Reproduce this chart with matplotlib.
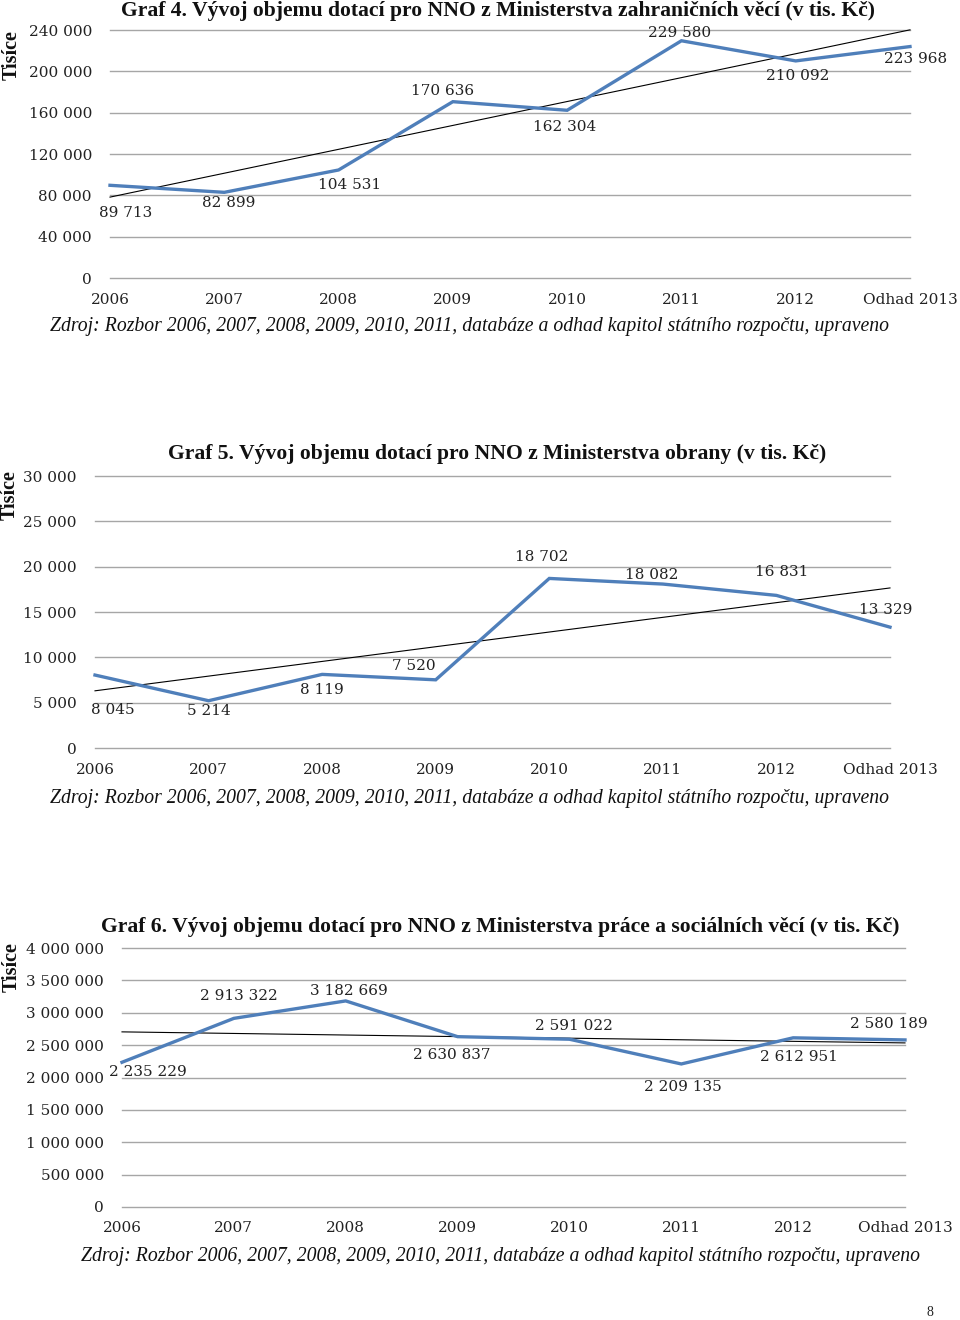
import numpy as np
import matplotlib
matplotlib.use("Agg")
import matplotlib.pyplot as plt
from matplotlib.ticker import FuncFormatter

# ---------------- data ----------------
years = ["2006", "2007", "2008", "2009", "2010", "2011", "2012", "Odhad 2013"]

mzv_values = [89713, 82899, 104531, 170636, 162304, 229580, 210092, 223968]
mo_values = [8045, 5214, 8119, 7520, 18702, 18082, 16831, 13329]
mpsv_values = [2235229, 2913322, 3182669, 2630837, 2591022, 2209135, 2612951, 2580189]

mzv_ticks = [0, 40000, 80000, 120000, 160000, 200000, 240000]
mo_ticks = [0, 5000, 10000, 15000, 20000, 25000, 30000]
mpsv_ticks = [0, 500000, 1000000, 1500000, 2000000, 2500000, 3000000, 3500000, 4000000]

title4 = "Graf 4. Vývoj objemu dotací pro NNO z Ministerstva zahraničních věcí (v tis. Kč)"
title5 = "Graf 5. Vývoj objemu dotací pro NNO z Ministerstva obrany (v tis. Kč)"
title6 = "Graf 6. Vývoj objemu dotací pro NNO z Ministerstva práce a sociálních věcí (v tis. Kč)"
source = "Zdroj: Rozbor 2006, 2007, 2008, 2009, 2010, 2011, databáze a odhad kapitol státního rozpočtu, upraveno"
ylabel = "Tisíce"

# label offsets in pixels (dx right, dy down)
mzv_off = [(16, 28), (4, 11), (11, 15), (-10, -11), (-3, 17), (-2, -8), (2, 15), (6, 12)]
mo_off = [(18, 35), (0, 10), (0, 16), (-22, -14), (-8, -21), (-11, -9), (5, -23), (-4, -17)]
mpsv_off = [(26, 10), (5, -22), (3, -10), (-6, 18), (5, -13), (2, 23), (6, 19), (-16, -16)]

W, H = 960, 1320
BLUE = "#4F7FBA"
GRID = "#A6A6A6"
SERIF = ["DejaVu Serif"]
TSERIF = ["Liberation Serif", "DejaVu Serif"]

fig = plt.figure(figsize=(W / 100, H / 100), dpi=100)


def fmt(v):
    return f"{int(round(v)):,}".replace(",", " ")


def make_chart(x0, x1, ytop, ybot, values, ticks, offs, title, title_xy,
               ylabel_xy, source_xy, ytick_pad, xtick_pad):
    ax = fig.add_axes([x0 / W, 1 - ybot / H, (x1 - x0) / W, (ybot - ytop) / H])
    x = np.arange(len(years))
    ax.set_xlim(0, len(years) - 1)
    ax.set_ylim(ticks[0], ticks[-1])
    for t in ticks:
        ax.axhline(t, color=GRID, lw=1.0, zorder=1, clip_on=False)
    coef = np.polyfit(x, values, 1)
    ax.plot(x, np.polyval(coef, x), color="black", lw=0.8, zorder=2, clip_on=False)
    ax.plot(x, values, color=BLUE, lw=2.4, zorder=3, clip_on=False,
            solid_joinstyle="miter")
    for xi, v, (dx, dy) in zip(x, values, offs):
        ax.annotate(fmt(v), (xi, v), xytext=(dx, -dy), textcoords="offset pixels",
                    ha="center", va="center", fontsize=11, family=SERIF,
                    color="#222222", zorder=4)
    for s in ax.spines.values():
        s.set_visible(False)
    ax.set_yticks(ticks)
    ax.yaxis.set_major_formatter(FuncFormatter(lambda v, p: fmt(v)))
    ax.set_xticks(x)
    ax.set_xticklabels(years)
    ax.tick_params(axis="both", length=0, labelsize=11, colors="#222222")
    ax.tick_params(axis="y", pad=ytick_pad)
    ax.tick_params(axis="x", pad=xtick_pad)
    for lab in ax.get_xticklabels() + ax.get_yticklabels():
        lab.set_family(SERIF)
    ax.patch.set_visible(False)
    fig.text(title_xy[0] / W, 1 - title_xy[1] / H, title, ha="center", va="center",
             fontsize=15.6, fontweight="bold", family=TSERIF, color="#111111")
    fig.text(ylabel_xy[0] / W, 1 - ylabel_xy[1] / H, ylabel, ha="center", va="center",
             rotation=90, fontsize=14.5, fontweight="bold", family=TSERIF, color="#111111")
    fig.text(source_xy[0] / W, 1 - source_xy[1] / H, source, ha="center", va="center",
             fontsize=14.2, style="italic", family=TSERIF, color="#111111")
    return ax


make_chart(110, 910, 30, 278, mzv_values, mzv_ticks, mzv_off, title4, (498, 11),
           (12, 55), (470, 326), 13, 11)
make_chart(95, 890, 476, 748, mo_values, mo_ticks, mo_off, title5, (497, 454),
           (10, 495), (470, 799), 13, 11)
make_chart(122, 905, 948, 1207, mpsv_values, mpsv_ticks, mpsv_off, title6, (500, 927),
           (12, 967), (500, 1257), 13, 10)

fig.text(930 / W, 1 - 1313 / H, "8", ha="center", va="center", fontsize=10,
         family=TSERIF, color="#222222")

fig.savefig("out.png", dpi=100, facecolor="white")
